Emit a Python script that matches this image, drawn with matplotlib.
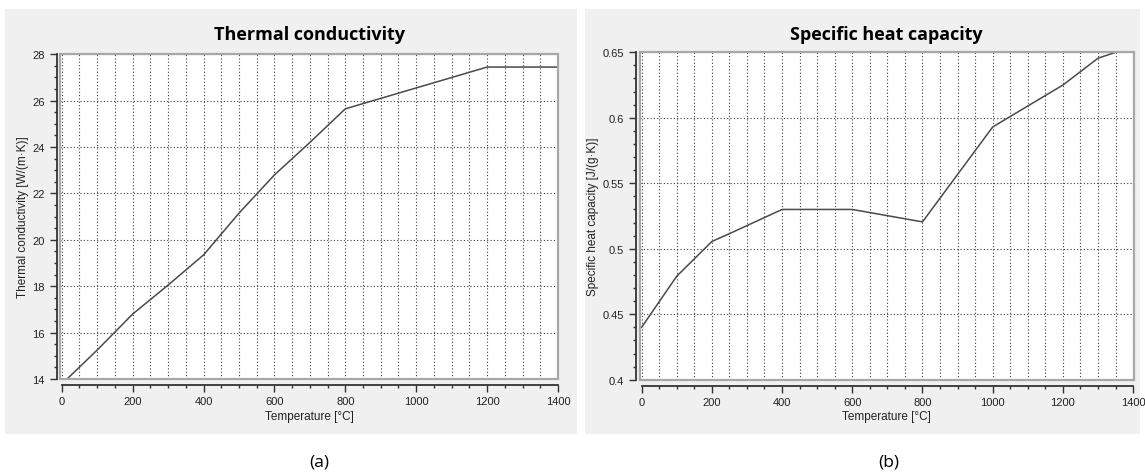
import matplotlib
matplotlib.use('Agg')
import matplotlib.pyplot as plt
from matplotlib.patches import Rectangle
from matplotlib.ticker import MultipleLocator

# data
temp_k = [15, 100, 200, 300, 400, 500, 600, 700, 800, 1200, 1400]
conductivity = [14.0, 15.25, 16.8, 18.05, 19.35, 21.15, 22.8, 24.2, 25.65, 27.45, 27.45]

temp_c = [0, 100, 200, 250, 400, 600, 800, 1000, 1200, 1300, 1350]
heat_capacity = [0.44, 0.479, 0.5055, 0.5115, 0.53, 0.53, 0.5205, 0.593, 0.625, 0.6455, 0.65]

titles = ['Thermal conductivity', 'Specific heat capacity']
ylabels = ['Thermal conductivity [W/(m\u00b7K)]', 'Specific heat capacity [J/(g\u00b7K)]']
xlabel = 'Temperature [\u00b0C]'
panel_tags = ['(a)', '(b)']

W, H = 1145, 477
plt.rcParams['font.family'] = ['Liberation Sans', 'DejaVu Sans']
fig = plt.figure(figsize=(W / 100, H / 100), dpi=100)
fig.patch.set_facecolor('white')

def px(x0, y0, x1, y1):
    # pixel box (top-left origin) -> figure coords
    return [x0 / W, 1 - y1 / H, (x1 - x0) / W, (y1 - y0) / H]

# gray panel backgrounds
for x0, x1 in [(5, 577), (585, 1140)]:
    b = px(x0, 10, x1, 435)
    fig.patches.append(Rectangle((b[0], b[1]), b[2], b[3], transform=fig.transFigure,
                                 facecolor='#f0f0f0', edgecolor='none', zorder=-10))

boxes = [px(60, 55.3, 558, 380), px(639.5, 53.3, 1133.5, 380.7)]
xlims = [(-5, 1400), (-6, 1401)]
ylims = [(14, 28), (0.4, 0.65)]
ymajor = [2, 0.05]
yminor = [0.5, 0.01]
xs = [temp_k, temp_c]
ys = [conductivity, heat_capacity]
centers = [309, 886]
ylab_x = [23, 593]

for i in range(2):
    ax = fig.add_axes(boxes[i])
    ax.set_facecolor('white')
    ax.plot(xs[i], ys[i], color='#4a4a4a', lw=1.1, zorder=3)
    ax.set_xlim(*xlims[i])
    ax.set_ylim(*ylims[i])
    ax.xaxis.set_major_locator(MultipleLocator(200))
    ax.xaxis.set_minor_locator(MultipleLocator(50))
    ax.yaxis.set_major_locator(MultipleLocator(ymajor[i]))
    ax.yaxis.set_minor_locator(MultipleLocator(yminor[i]))
    if i == 1:
        ax.set_yticks([0.4, 0.45, 0.5, 0.55, 0.6, 0.65])
        ax.set_yticklabels(['0.4', '0.45', '0.5', '0.55', '0.6', '0.65'])
        ax.set_ylim(*ylims[i])
    ax.grid(which='both', axis='x', color='#3c3c3c', lw=0.8, linestyle=(0, (1, 2)))
    ax.grid(which='major', axis='y', color='#3c3c3c', lw=0.8, linestyle=(0, (1, 2)))
    ax.set_axisbelow(True)

    for s in ['top', 'right']:
        ax.spines[s].set_visible(False)
    ax.spines['left'].set_position(('outward', 2.5))
    ax.spines['bottom'].set_position(('outward', 4.5))
    ax.spines['bottom'].set_bounds(0, 1400)
    for s in ['left', 'bottom']:
        ax.spines[s].set_color('#333333')
        ax.spines[s].set_linewidth(1.3)
    ax.tick_params(which='major', length=5, width=1, color='#333333', labelsize=8,
                   labelcolor='#222222')
    ax.tick_params(which='minor', length=2.5, width=1, color='#333333')
    ax.tick_params(axis='y', pad=3.5)
    ax.tick_params(axis='x', pad=3)

    # gray frame around plot area
    ax.add_patch(Rectangle((0, 0), 1, 1, transform=ax.transAxes, fill=False,
                           edgecolor='#a8a8a8', lw=1.6, clip_on=False, zorder=4))

    fig.text(centers[i] / W, 1 - 35 / H, titles[i], ha='center', va='center',
             fontsize=13, fontweight='bold', family=['Open Sans', 'DejaVu Sans'])
    fig.text(centers[i] / W, 1 - 417 / H, xlabel, ha='center', va='center',
             fontsize=8.5, color='#222222')
    fig.text(ylab_x[i] / W, 1 - 217 / H, ylabels[i], ha='center', va='center',
             rotation=90, fontsize=8.5, color='#222222')
    fig.text([319, 889][i] / W, 1 - 463 / H, panel_tags[i], ha='center', va='center',
             fontsize=12.5, family=['Open Sans', 'DejaVu Sans'])

fig.savefig('out.png', dpi=100)
